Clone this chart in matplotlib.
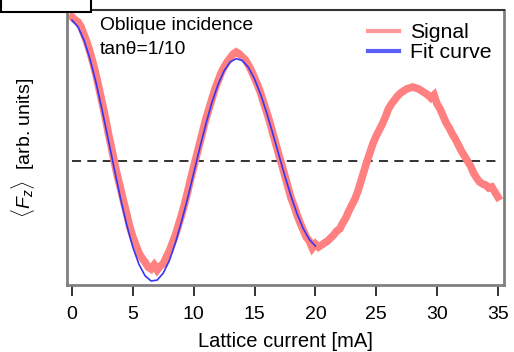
import numpy as np
import matplotlib
matplotlib.use('Agg')
import matplotlib.pyplot as plt
from matplotlib.patches import Rectangle

plt.rcParams['font.family'] = ['Liberation Sans', 'DejaVu Sans']
plt.rcParams['mathtext.fontset'] = 'custom'
plt.rcParams['mathtext.rm'] = 'Liberation Sans'
plt.rcParams['mathtext.it'] = 'Liberation Sans:italic'

# measured signal (arb. units, dashed line = 0), step 0.25 mA
sig_x = np.arange(0, 35.01, 0.25)
sig_y = [144, 141, 139, 134, 126, 118, 108, 97, 85, 71, 57, 43, 27, 13, -2, -16,
         -28, -41, -53, -66, -76, -84, -92, -97, -101, -106, -108, -104, -109, -105, -103, -96,
         -90, -82, -74, -64, -54, -43, -31, -18, -6, 6, 18, 30, 42, 52,
         62, 72, 80, 88, 94, 99, 103, 107, 109, 107, 104, 101, 96, 90,
         83, 76, 68, 58, 49, 39, 28, 17, 6, -4, -15, -26, -37, -45,
         -54, -62, -69, -76, -80, -87, -83, -86, -84, -82, -80, -77, -74, -70,
         -68, -62, -57, -50, -44, -38, -30, -20, -10, 0, 9, 18, 25, 31,
         37, 44, 52, 57, 61, 65, 68, 70, 72, 73, 74, 73, 72, 70,
         68, 66, 63, 66, 57, 52, 45, 38, 33, 27, 22, 16, 10, 5,
         0, -5, -12, -17, -21, -23, -24, -27, -26, -31, -36]

# fit curve, step 0.5 mA
fit_x = np.arange(0, 20.01, 0.5)
fit_y = [140.8, 134.0, 120.5, 101.2, 77.1, 49.5, 20.3, -9.4, -38.0, -64.0, -86.2,
         -103.2, -114.7, -120.0, -119.1, -112.1, -99.6, -81.8, -60.6, -37.4, -12.2,
         13.0, 36.8, 58.5, 76.4, 90.2, 99.1, 102.3, 100.5, 93.6, 82.0,
         66.6, 48.1, 27.5, 6.0, -15.2, -35.2, -52.9, -67.6, -78.4, -85.0]

fig = plt.figure(figsize=(5.14, 3.52), dpi=100)
ax = fig.add_axes([67/514, 67/352, 437/514, 275/352])

ax.hlines(0, 0, 35, colors='#222222', linestyles=(0, (5, 3.5)), lw=1.3, zorder=1)
ax.plot(sig_x, sig_y, color='#ff8080', lw=5.5, solid_joinstyle='miter', label='Signal', zorder=2)
ax.plot(fit_x, fit_y, color='#3535f5', lw=1.2, label='Fit curve', zorder=3)

ax.set_xlim(-0.41, 35.5)
ax.set_ylim(-124, 151)
ax.set_xticks(range(0, 36, 5))
ax.set_yticks([])
ax.tick_params(axis='x', direction='out', length=8, width=1.4, color='#333333',
               labelsize=14, pad=7)
for s in ['left', 'bottom', 'right']:
    ax.spines[s].set_color('#808080')
    ax.spines[s].set_linewidth(2)
ax.spines['top'].set_color('#333333')
ax.spines['top'].set_linewidth(1.5)

ax.set_xlabel('Lattice current [mA]', fontsize=14.5)
ax.xaxis.set_label_coords(0.5, -0.172)
ax.set_ylabel(r'$\langle F_z \rangle$  [arb. units]', fontsize=14)
ax.yaxis.set_label_coords(-0.069, 0.5)

ax.text(0.0755, 0.942, 'Oblique incidence', transform=ax.transAxes, fontsize=13.9, va='center')
ax.text(0.0755, 0.858, 'tan\u03b8=1/10', transform=ax.transAxes, fontsize=13.9, va='center')

leg = ax.legend(loc='upper right', bbox_to_anchor=(0.995, 0.99), frameon=False, fontsize=15.3,
                handlelength=1.45, handletextpad=0.5, borderpad=0, labelspacing=0.05)
for h in leg.get_lines():
    h.set_linewidth(3)
    h.set_alpha(0.8)

fig.add_artist(Rectangle((1/514, 340/352), 90/514, 14/352, transform=fig.transFigure,
                         fc='white', ec='black', lw=1.5, zorder=10))

fig.savefig('out.png', dpi=100)
